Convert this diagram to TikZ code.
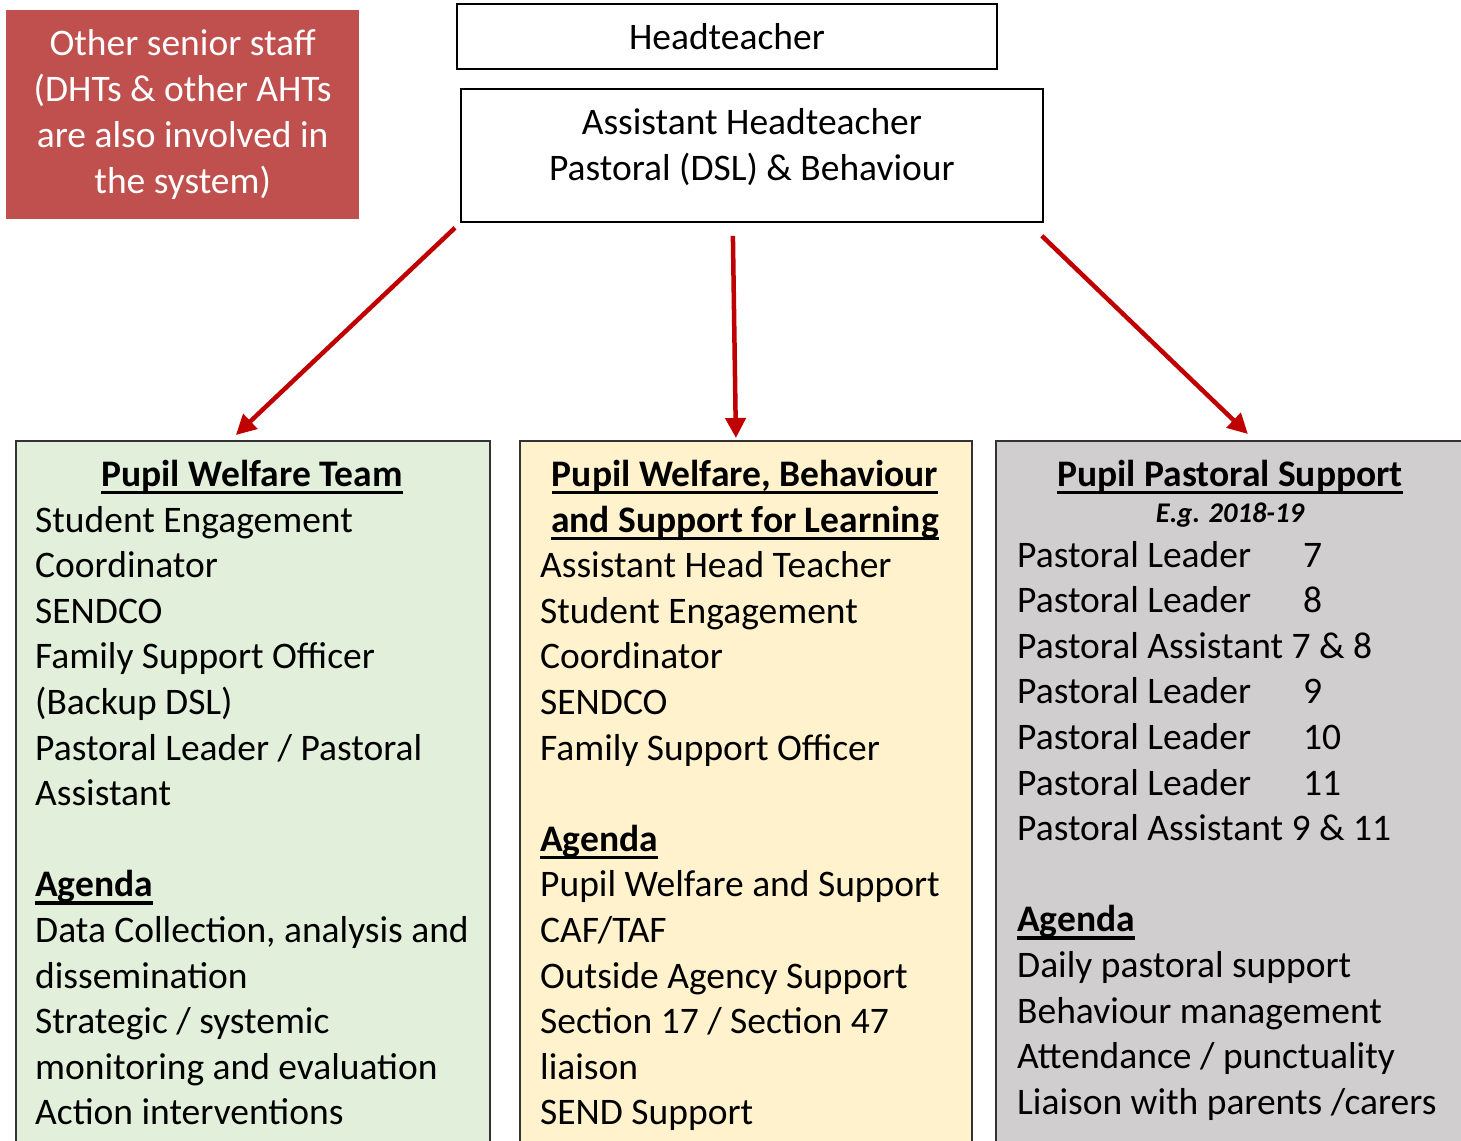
\documentclass[tikz,border=0pt]{standalone}
\usepackage{fontspec}
\setmainfont{Carlito}
\usepackage{tikz}
\usetikzlibrary{positioning}
\usetikzlibrary{arrows.meta,calc}
\definecolor{seniorred}{HTML}{C0504D}
\definecolor{arrowred}{HTML}{C00000}
\definecolor{welfaregreen}{HTML}{E2EFDA}
\definecolor{supportyellow}{HTML}{FFF2CC}
\definecolor{pastoralgrey}{HTML}{D0CECE}
\tikzstyle{rolebox}=[draw=black,line width=1.8pt,inner sep=0pt,font=\fontsize{37.5}{46}\selectfont,align=center]
\tikzstyle{teambox}=[draw=black!80,line width=1.8pt,inner sep=0pt,anchor=north west]
\tikzstyle{entry}=[anchor=base west,inner sep=0pt,font=\fontsize{37.5}{45.6}\selectfont]
\tikzstyle{heading}=[anchor=base,inner sep=0pt,font=\fontsize{37.5}{45.6}\selectfont\bfseries]
\tikzstyle{link}=[draw=arrowred,line width=4.5pt,-{Triangle[length=20pt,width=20pt]}]
\newcommand{\ulined}[1]{\setbox0\hbox{#1}\rlap{\rule[-8pt]{\wd0}{3.5pt}}\box0}

\begin{document}
\begin{tikzpicture}[x=1pt,y=-1pt]
    \clip (0,0) rectangle (1461,1140);

    \def\gap{45.6};

    % top of the tree
    \node[fill=seniorred,text=white,font=\fontsize{37.5}{46}\selectfont,align=center,inner sep=0pt,minimum width=353,minimum height=209,anchor=north west] (senior) at (6,10) {Other senior staff\\(DHTs \& other AHTs\\are also involved in\\the system)};
    \node[rolebox,minimum width=540,minimum height=65,anchor=north west] (head) at (456,3) {Headteacher};
    \node[rolebox,minimum width=582,minimum height=133,anchor=north west] (aht) at (460,88) {Assistant Headteacher\\Pastoral (DSL) \& Behaviour\rule[-22pt]{0pt}{0pt}};

    % the three teams
    \node[teambox,fill=welfaregreen,minimum width=474,minimum height=760] (welfare) at (15,440) {};
    \node[teambox,fill=supportyellow,minimum width=452,minimum height=760] (behaviour) at (519,440) {};
    \node[teambox,fill=pastoralgrey,minimum width=500,minimum height=760] (pastoral) at (995,440) {};

    \draw[link] ([shift={(-5,5)}]aht.south west) -- ([shift={(-17,-5)}]welfare.north);
    \draw[link] ([shift={(-19,13)}]aht.south) -- ([shift={(-10,-2)}]behaviour.north);
    \draw[link] ([shift={(-2,13)}]aht.south east) -- ([shift={(2,-6)}]pastoral.north);

    % Pupil Welfare Team
    \node[heading] (welfarehead) at (252,486.4) {\ulined{Pupil Welfare Team}};
    \foreach \row/\line in {0/Student Engagement, 1/Coordinator, 2/SENDCO, 3/Family Support Officer, 4/(Backup DSL), 5/{Pastoral Leader / Pastoral}, 6/Assistant, 9/{Data Collection, analysis and}, 10/dissemination, 11/{Strategic / systemic}, 12/monitoring and evaluation, 13/Action interventions}
        \node[entry] (W\row) at (35,532+\row*\gap) {\line};
    \node[entry,font=\fontsize{37.5}{45.6}\selectfont\bfseries] (W8) at (35,532+8*\gap) {\ulined{Agenda}};

    % Pupil Welfare, Behaviour and Support for Learning
    \node[heading] (behaviourhead) at (745,486.4) {\ulined{Pupil Welfare, Behaviour}};
    \node[heading] (behaviourhead2) at (745,532) {\ulined{and Support for Learning}};
    \foreach \row/\line in {1/Assistant Head Teacher, 2/Student Engagement, 3/Coordinator, 4/SENDCO, 5/Family Support Officer, 8/Pupil Welfare and Support, 9/{CAF/TAF}, 10/Outside Agency Support, 11/{Section 17 / Section 47}, 12/liaison, 13/SEND Support}
        \node[entry] (B\row) at (540,532+\row*\gap) {\line};
    \node[entry,font=\fontsize{37.5}{45.6}\selectfont\bfseries] (B7) at (540,532+7*\gap) {\ulined{Agenda}};

    % Pupil Pastoral Support
    \node[heading] (pastoralhead) at (1230,486.4) {\ulined{Pupil Pastoral Support}};
    \node[heading,font=\fontsize{28.5}{30}\selectfont\bfseries\itshape] (pastoralyear) at (1230,522) {E.g. 2018-19};
    \foreach \row/\line in {0/{\makebox[286pt][l]{Pastoral Leader}7}, 1/{\makebox[286pt][l]{Pastoral Leader}8}, 2/Pastoral Assistant 7 \& 8, 3/{\makebox[286pt][l]{Pastoral Leader}9}, 4/{\makebox[286pt][l]{Pastoral Leader}10}, 5/{\makebox[286pt][l]{Pastoral Leader}11}, 6/Pastoral Assistant 9 \& 11, 9/Daily pastoral support, 10/Behaviour management, 11/{Attendance / punctuality}, 12/{Liaison with parents /carers}}
        \node[entry] (P\row) at (1017,567+\row*\gap) {\line};
    \node[entry,font=\fontsize{37.5}{45.6}\selectfont\bfseries] (P8) at (1017,567+8*\gap) {\ulined{Agenda}};

\end{tikzpicture}
\end{document}
